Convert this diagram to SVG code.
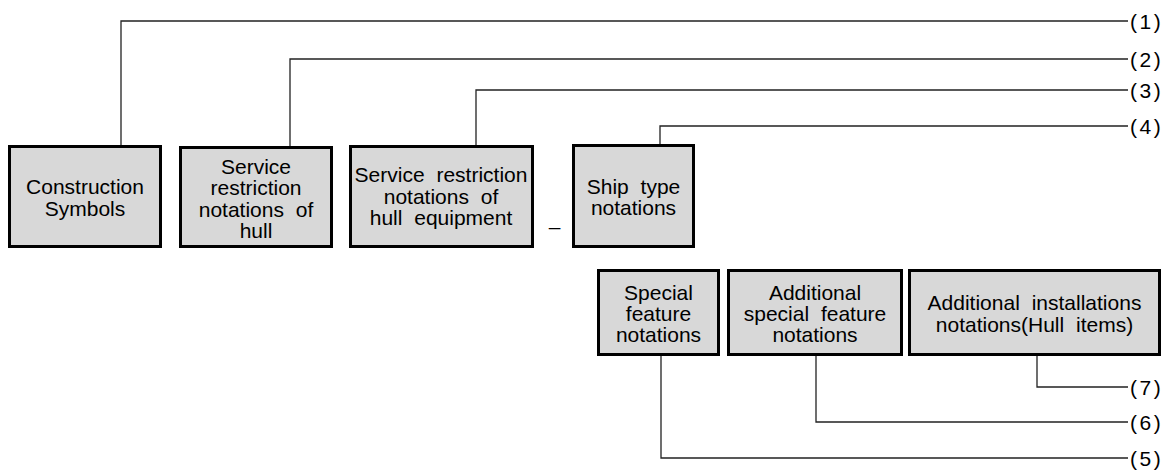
<svg xmlns="http://www.w3.org/2000/svg" width="1174" height="472" viewBox="0 0 1174 472">
<style>
.box{fill:#d8d8d8;stroke:#000;stroke-width:3}
.t{font-family:"Liberation Sans",Arial,sans-serif;font-size:21px;fill:#000;text-anchor:middle;word-spacing:6px}
.lbl{font-family:"Liberation Sans",Arial,sans-serif;font-size:21px;fill:#000;letter-spacing:2.5px}
.ln{fill:none;stroke:#222;stroke-width:1.3}
</style>
<rect width="1174" height="472" fill="#fff"/>
<g id="connectors">
<polyline class="ln" points="121,145 121,21 1128,21"/>
<polyline class="ln" points="290,146 290,59 1128,59"/>
<polyline class="ln" points="476,145 476,90 1128,90"/>
<polyline class="ln" points="660,144 660,126 1128,126"/>
<polyline class="ln" points="1037,356 1037,387 1128,387"/>
<polyline class="ln" points="816,356 816,422 1128,422"/>
<polyline class="ln" points="661,356 661,458 1128,458"/>
</g>
<g id="labels">
<text class="lbl" x="1130" y="29">(1)</text>
<text class="lbl" x="1130" y="67">(2)</text>
<text class="lbl" x="1130" y="98">(3)</text>
<text class="lbl" x="1130" y="134">(4)</text>
<text class="lbl" x="1130" y="395">(7)</text>
<text class="lbl" x="1130" y="430">(6)</text>
<text class="lbl" x="1130" y="466">(5)</text>
</g>
<g id="n1">
<rect class="box" x="9.5" y="146.5" width="151" height="100"/>
<text class="t" x="85" y="194">Construction</text>
<text class="t" x="85" y="215.5">Symbols</text>
</g>
<g id="n2">
<rect class="box" x="180.5" y="147.5" width="151" height="99"/>
<text class="t" x="256" y="173.5">Service</text>
<text class="t" x="256" y="195">restriction</text>
<text class="t" x="256" y="216.5">notations of</text>
<text class="t" x="256" y="238">hull</text>
</g>
<g id="n3">
<rect class="box" x="350.5" y="146.5" width="182" height="100"/>
<text class="t" x="441" y="182">Service restriction</text>
<text class="t" x="441" y="203.5">notations of</text>
<text class="t" x="441" y="225">hull equipment</text>
</g>
<text class="t" x="554.5" y="234">–</text>
<g id="n4">
<rect class="box" x="573.5" y="145.5" width="120" height="101"/>
<text class="t" x="633.5" y="194">Ship type</text>
<text class="t" x="633.5" y="215">notations</text>
</g>
<g id="n5">
<rect class="box" x="598.5" y="270.5" width="120" height="84"/>
<text class="t" x="658.5" y="300">Special</text>
<text class="t" x="658.5" y="321">feature</text>
<text class="t" x="658.5" y="342">notations</text>
</g>
<g id="n6">
<rect class="box" x="728.5" y="270.5" width="173" height="84"/>
<text class="t" x="815" y="300">Additional</text>
<text class="t" x="815" y="321">special feature</text>
<text class="t" x="815" y="342">notations</text>
</g>
<g id="n7">
<rect class="box" x="909.5" y="270.5" width="250" height="84"/>
<text class="t" x="1034.5" y="310">Additional installations</text>
<text class="t" x="1034.5" y="331.5">notations(Hull items)</text>
</g>
</svg>
